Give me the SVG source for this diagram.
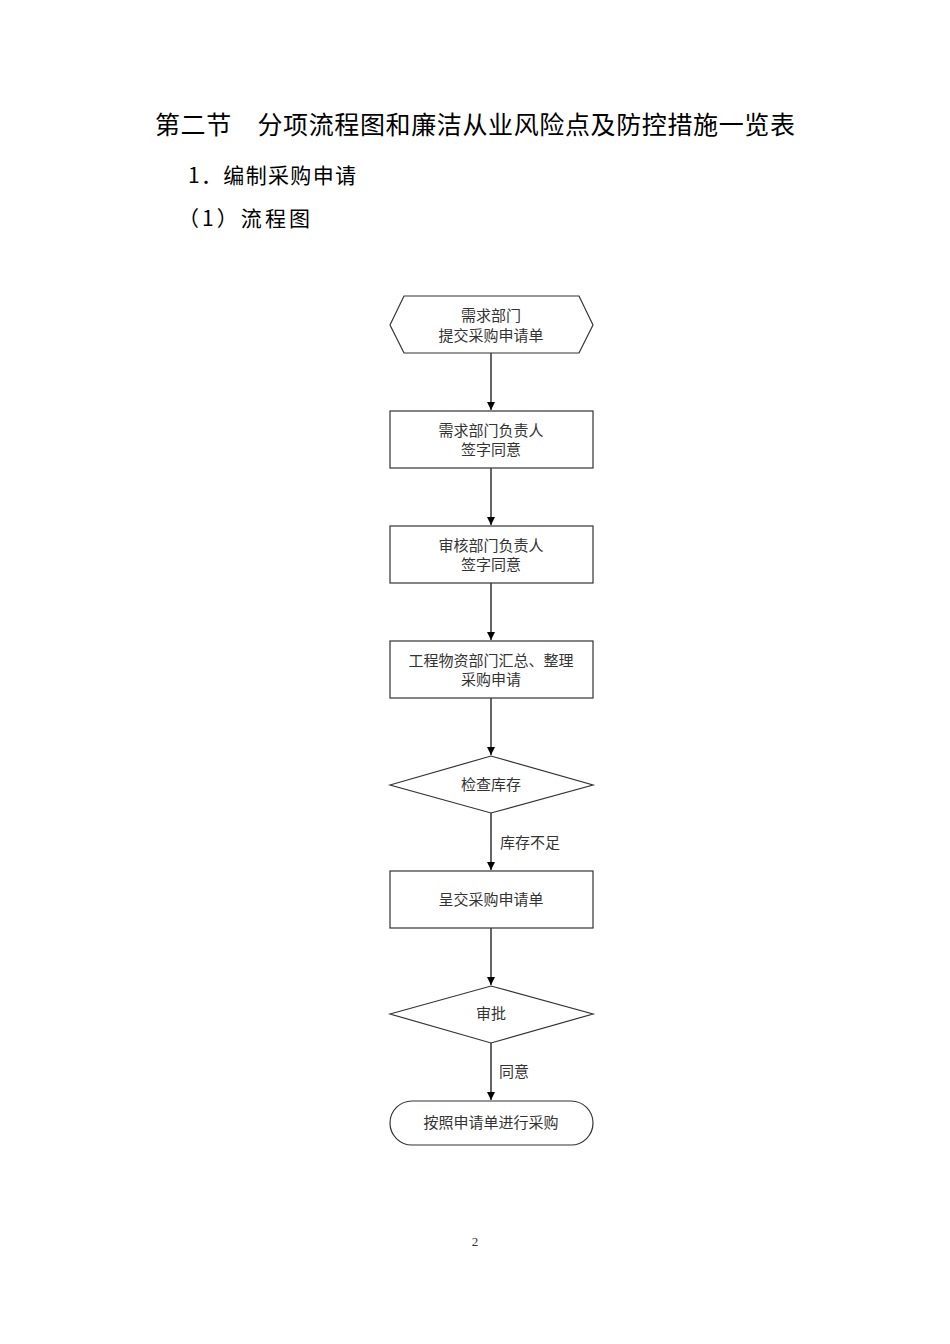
<svg xmlns="http://www.w3.org/2000/svg" width="950" height="1344" viewBox="0 0 950 1344">
<style>
.h{font-family:"Noto Sans CJK SC","Liberation Serif",serif;fill:#000;font-weight:400}
.t{font-family:"Noto Sans CJK SC","Liberation Sans",sans-serif;font-size:15px;fill:#333;text-anchor:middle}
.s{fill:#fff;stroke:#333;stroke-width:1.2}
.c line{stroke:#333;stroke-width:1.5;marker-end:url(#a)}
</style>
<defs><marker id="a" markerWidth="10" markerHeight="10" refX="9" refY="5" orient="auto" markerUnits="userSpaceOnUse"><path d="M1,1 L9,5 L1,9 Z" fill="#000"/></marker></defs>
<rect width="950" height="1344" fill="#fff"/>
<text class="h" x="155" y="134" font-size="25" textLength="640" lengthAdjust="spacing">第二节　分项流程图和廉洁从业风险点及防控措施一览表</text>
<text class="h" x="188" y="183" font-size="21" textLength="168" lengthAdjust="spacing">1．编制采购申请</text>
<text class="h" x="178" y="226" font-size="21" textLength="132" lengthAdjust="spacing">（1）流程图</text>
<g class="c">
<line x1="491" y1="353" x2="491" y2="410"/>
<line x1="491" y1="468" x2="491" y2="525"/>
<line x1="491" y1="583" x2="491" y2="640"/>
<line x1="491" y1="698" x2="491" y2="755"/>
<line x1="491" y1="813" x2="491" y2="870"/>
<line x1="491" y1="928" x2="491" y2="985"/>
<line x1="491" y1="1043" x2="491" y2="1100"/>
<text class="t" x="530" y="848">库存不足</text>
<text class="t" x="514" y="1077">同意</text>
</g>
<g id="n1"><polygon class="s" points="390,325 404,296 579,296 593,325 579,353 404,353"/><text class="t" x="491" y="321">需求部门</text><text class="t" x="491" y="341">提交采购申请单</text></g>
<g id="n2"><rect class="s" x="390" y="411" width="203" height="57"/><text class="t" x="491" y="436">需求部门负责人</text><text class="t" x="491" y="455">签字同意</text></g>
<g id="n3"><rect class="s" x="390" y="526" width="203" height="57"/><text class="t" x="491" y="551">审核部门负责人</text><text class="t" x="491" y="570">签字同意</text></g>
<g id="n4"><rect class="s" x="390" y="641" width="203" height="57"/><text class="t" x="491" y="666">工程物资部门汇总、整理</text><text class="t" x="491" y="685">采购申请</text></g>
<g id="n5"><polygon class="s" points="390,785 491,756 593,785 491,813"/><text class="t" x="491" y="790">检查库存</text></g>
<g id="n6"><rect class="s" x="390" y="871" width="203" height="57"/><text class="t" x="491" y="905">呈交采购申请单</text></g>
<g id="n7"><polygon class="s" points="390,1014 491,986 593,1014 491,1043"/><text class="t" x="491" y="1019">审批</text></g>
<g id="n8"><rect class="s" x="390" y="1101" width="203" height="44" rx="22"/><text class="t" x="491" y="1128">按照申请单进行采购</text></g>
<text x="475" y="1246" font-family="Liberation Serif,serif" font-size="13" fill="#333" text-anchor="middle">2</text>
</svg>
